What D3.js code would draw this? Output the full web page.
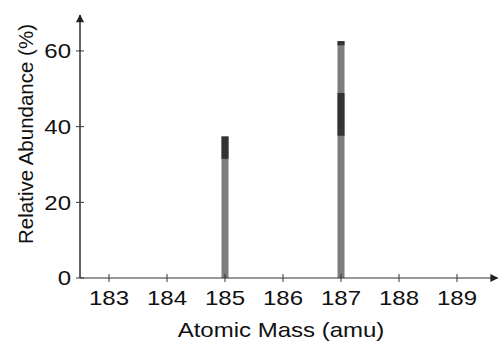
<!DOCTYPE html>
<html>
<head>
<meta charset="utf-8">
<script src="https://cdn.jsdelivr.net/npm/d3@7"></script>
<style>
  body { margin: 0; background: #fff; }
  text { font-family: "Liberation Sans", Arial, Helvetica, sans-serif; fill: #111; }
</style>
</head>
<body>
<div id="chart"></div>
<script>
// Isotope data (rhenium)
const masses = [185, 187];
const abundance = [37.4, 62.6];
const xTicks = [183, 184, 185, 186, 187, 188, 189];
const yTicks = [0, 20, 40, 60];
// darker shaded stretches on each bar (in % units), as printed
const darkBands = [
  [[31.5, 37.4]],
  [[61.5, 62.6], [37.6, 48.9]]
];

const W = 500, H = 343;
const stretch = 1.2; // the printed type is wide
const svg = d3.select("#chart").append("svg")
  .attr("width", W).attr("height", H);

const x = d3.scaleLinear().domain([182.5, 189.7]).range([80, 497.6]);
const y = d3.scaleLinear().domain([0, 69.5]).range([278, 15]);

// Arrow heads
const defs = svg.append("defs");
defs.append("marker")
  .attr("id", "arrow")
  .attr("viewBox", "0 0 10 10")
  .attr("refX", 9).attr("refY", 5)
  .attr("markerWidth", 10).attr("markerHeight", 8)
  .attr("markerUnits", "userSpaceOnUse")
  .attr("orient", "auto")
  .append("path")
  .attr("d", "M0,0 L10,5 L0,10 Z")
  .attr("fill", "#222");

// Bars
const bars = svg.append("g");
masses.forEach((m, i) => {
  bars.append("rect")
    .attr("x", x(m) - 3.5)
    .attr("y", y(abundance[i]))
    .attr("width", 7)
    .attr("height", y(0) - y(abundance[i]))
    .attr("fill", "#7d7d7d");
  darkBands[i].forEach(b => {
    bars.append("rect")
      .attr("x", x(m) - 3.5)
      .attr("y", y(b[1]))
      .attr("width", 7)
      .attr("height", y(b[0]) - y(b[1]))
      .attr("fill", "#333");
  });
});

// Axis lines with arrows
svg.append("line")
  .attr("x1", x(182.5)).attr("y1", y(0))
  .attr("x2", x(189.7)).attr("y2", y(0))
  .attr("stroke", "#333").attr("stroke-width", 1.2)
  .attr("marker-end", "url(#arrow)");
svg.append("line")
  .attr("x1", x(182.5)).attr("y1", y(0))
  .attr("x2", x(182.5)).attr("y2", y(69.5))
  .attr("stroke", "#222").attr("stroke-width", 1.4)
  .attr("marker-end", "url(#arrow)");

// X ticks
const gx = svg.append("g");
gx.selectAll("line").data(xTicks).enter().append("line")
  .attr("x1", d => x(d)).attr("x2", d => x(d))
  .attr("y1", y(0) - 4).attr("y2", y(0) + 4)
  .attr("stroke", "#333").attr("stroke-width", 1);
gx.selectAll("text").data(xTicks).enter().append("text")
  .attr("transform", d => `translate(${x(d)},305) scale(${stretch},1)`)
  .attr("text-anchor", "middle")
  .style("font-size", "20px")
  .text(d => d);

// Y ticks
const gy = svg.append("g");
gy.selectAll("line").data(yTicks).enter().append("line")
  .attr("x1", x(182.5) - 4).attr("x2", x(182.5) + 4)
  .attr("y1", d => y(d)).attr("y2", d => y(d))
  .attr("stroke", "#333").attr("stroke-width", 1);
gy.selectAll("text").data(yTicks).enter().append("text")
  .attr("transform", d => `translate(71,${y(d)}) scale(${stretch},1)`)
  .attr("dy", "0.36em")
  .attr("text-anchor", "end")
  .style("font-size", "20px")
  .text(d => d);

// Axis titles
svg.append("text")
  .attr("transform", `translate(281,337) scale(${stretch},1)`)
  .attr("text-anchor", "middle")
  .style("font-size", "20px")
  .text("Atomic Mass (amu)");
svg.append("text")
  .attr("transform", "translate(33,134) rotate(-90)")
  .attr("text-anchor", "middle")
  .style("font-size", "20.5px")
  .text("Relative Abundance (%)");
</script>
</body>
</html>
